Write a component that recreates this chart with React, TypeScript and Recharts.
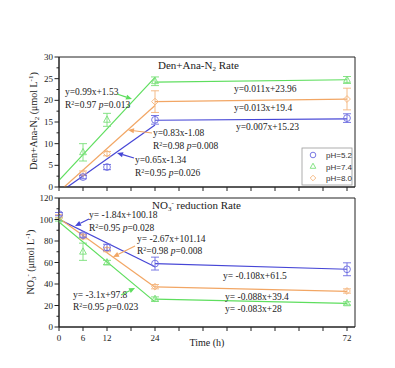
import { ComposedChart, XAxis, YAxis, Scatter, Line, ErrorBar, ReferenceArea } from 'recharts'

const BLUE = '#4646d6'
const GREEN = '#5ede5e'
const ORANGE = '#f2a664'
const BLUE_M = '#6a6ae0'
const GREEN_M = '#78e078'
const ORANGE_M = '#f4b47c'
const SERIF = '"Liberation Serif", "Times New Roman", serif'

const hours = [0, 6, 12, 18, 24, 30, 36, 42, 48, 54, 60, 66, 72]
const hourLabels = [0, 6, 12, 24, 72]

// Den+Ana-N2 (umol/L) measured points
const n2Blue = [
  { t: 6, v: 2.3, e: 0.4 },
  { t: 12, v: 4.6, e: 0.6 },
  { t: 24, v: 15.5, e: 1 },
  { t: 72, v: 15.9, e: 1 },
]
const n2Green = [
  { t: 6, v: 8, e: 2 },
  { t: 12, v: 15.5, e: 1.5 },
  { t: 24, v: 24.4, e: 1 },
  { t: 72, v: 24.7, e: 0.8 },
]
const n2Orange = [
  { t: 6, v: 3.2, e: 0.5 },
  { t: 12, v: 7.7, e: 0.5 },
  { t: 24, v: 19.7, e: 2.5 },
  { t: 72, v: 20.3, e: 2.5 },
]

// fitted segments, top panel
const n2BlueFit1 = [{ t: 2.1, v: 0 }, { t: 24, v: 14.3 }]
const n2BlueFit2 = [{ t: 24, v: 15.4 }, { t: 72, v: 15.7 }]
const n2GreenFit1 = [{ t: 0, v: 1.53 }, { t: 24, v: 25.3 }]
const n2GreenFit2 = [{ t: 24, v: 24.2 }, { t: 72, v: 24.75 }]
const n2OrangeFit1 = [{ t: 1.3, v: 0 }, { t: 24, v: 18.8 }]
const n2OrangeFit2 = [{ t: 24, v: 19.7 }, { t: 72, v: 20.3 }]

// NO3- (umol/L) measured points
const no3Blue = [
  { t: 0, v: 105, e: 1.5 },
  { t: 6, v: 85.5, e: 2 },
  { t: 12, v: 74, e: 3 },
  { t: 24, v: 59, e: 6 },
  { t: 72, v: 53.7, e: 6 },
]
const no3Green = [
  { t: 0, v: 100, e: 1.5 },
  { t: 6, v: 70, e: 8 },
  { t: 12, v: 60, e: 2 },
  { t: 24, v: 26, e: 2 },
  { t: 72, v: 22, e: 1.5 },
]
const no3Orange = [
  { t: 0, v: 103, e: 1.5 },
  { t: 6, v: 84, e: 2 },
  { t: 12, v: 72, e: 2 },
  { t: 24, v: 37.5, e: 2 },
  { t: 72, v: 33.5, e: 2 },
]

const no3BlueFit1 = [{ t: 0, v: 100.2 }, { t: 24, v: 56 }]
const no3BlueFit2 = [{ t: 24, v: 58.9 }, { t: 72, v: 53.7 }]
const no3OrangeFit1 = [{ t: 0, v: 101.1 }, { t: 24, v: 37 }]
const no3OrangeFit2 = [{ t: 24, v: 37.3 }, { t: 72, v: 33.1 }]
const no3GreenFit1 = [{ t: 0, v: 97.8 }, { t: 24, v: 23.4 }]
const no3GreenFit2 = [{ t: 24, v: 26 }, { t: 72, v: 22 }]

const n2Ticks = [0, 2.5, 5, 7.5, 10, 12.5, 15, 17.5, 20, 22.5, 25, 27.5, 30]
const no3Ticks = [0, 10, 20, 30, 40, 50, 60, 70, 80, 90, 100, 110, 120]

const legendItems = [
  { name: 'pH=5.2', color: BLUE_M, shape: 'circle' },
  { name: 'pH=7.4', color: GREEN_M, shape: 'triangle' },
  { name: 'pH=8.0', color: ORANGE_M, shape: 'diamond' },
]

const marker = (shape: string, color: string, cx: number, cy: number, r = 3.4) => {
  if (shape === 'circle') return <circle cx={cx} cy={cy} r={r} fill="none" stroke={color} strokeWidth={0.9} />
  if (shape === 'triangle')
    return <polygon points={`${cx},${cy - r - 0.5} ${cx - r},${cy + r - 1} ${cx + r},${cy + r - 1}`} fill="none" stroke={color} strokeWidth={0.9} />
  return <polygon points={`${cx},${cy - r} ${cx + r},${cy} ${cx},${cy + r} ${cx - r},${cy}`} fill="none" stroke={color} strokeWidth={0.9} />
}

const shapeOf = (shape: string, color: string) => (p: any) => marker(shape, color, p.cx, p.cy)

const makeYTick = (step: number) => (p: any) => {
  const v = p.payload.value
  const major = Math.abs(v / step - Math.round(v / step)) < 1e-6
  return (
    <g>
      <line x1={p.x} x2={p.x - (major ? 4.5 : 2.5)} y1={p.y} y2={p.y} stroke="#222" />
      {major && (
        <text x={p.x - 6} y={p.y + 3} textAnchor="end" fontSize={9} fontFamily={SERIF} fill="#222">{v}</text>
      )}
    </g>
  )
}

const makeXTick = (showLabels: boolean) => (p: any) => {
  const v = p.payload.value
  return (
    <g>
      <line x1={p.x} x2={p.x} y1={p.y} y2={p.y + 4} stroke="#222" />
      {showLabels && hourLabels.includes(v) && (
        <text x={p.x} y={p.y + 14} textAnchor="middle" fontSize={9} fontFamily={SERIF} fill="#222">{v}</text>
      )}
    </g>
  )
}

const fit = (data: any[], color: string, key: string) => (
  <Line key={key} data={data} dataKey="v" stroke={color} strokeWidth={1.2} dot={false} isAnimationActive={false} />
)

const points = (data: any[], color: string, shape: string) => (
  <Scatter data={data} dataKey="v" shape={shapeOf(shape, color)} isAnimationActive={false}>
    <ErrorBar dataKey="e" direction="y" width={4} stroke={color} strokeWidth={0.9} />
  </Scatter>
)

const Arrow = ({ x1, y1, x2, y2, color }: { x1: number; y1: number; x2: number; y2: number; color: string }) => {
  const a = Math.atan2(y2 - y1, x2 - x1)
  const L = 6, W = 2.6
  const bx = x2 - L * Math.cos(a), by = y2 - L * Math.sin(a)
  const px = -Math.sin(a) * W, py = Math.cos(a) * W
  return (
    <g>
      <line x1={x1} y1={y1} x2={bx} y2={by} stroke={color} strokeWidth={1.2} />
      <polygon points={`${x2},${y2} ${bx + px},${by + py} ${bx - px},${by - py}`} fill={color} />
    </g>
  )
}

const Eq = ({ x, y, text }: { x: number; y: number; text: string }) => (
  <text x={x} y={y} fontSize={9.5} fontFamily={SERIF} fill="#222">{text}</text>
)

const Stat = ({ x, y, r2, p }: { x: number; y: number; r2: string; p: string }) => (
  <text x={x} y={y} fontSize={9.5} fontFamily={SERIF} fill="#222">
    R<tspan dy={-3} fontSize={6}>2</tspan><tspan dy={3}>={r2}  </tspan>
    <tspan fontStyle="italic">p</tspan>={p}
  </text>
)

export default function App() {
  return (
    <div style={{ position: 'absolute', left: 0, top: 0, width: 395, height: 368, background: '#fff' }}>
      <div style={{ position: 'absolute', left: 0, top: 0 }}>
        <ComposedChart width={395} height={368} margin={{ top: 57, right: 40, bottom: 171, left: 29 }}>
          <XAxis dataKey="t" type="number" domain={[0, 74]} ticks={hours} allowDataOverflow interval={0}
            height={10} tickSize={0} tickMargin={0} tickLine={false} tick={makeXTick(false)} stroke="#222" />
          <YAxis dataKey="v" type="number" domain={[0, 30]} ticks={n2Ticks} allowDataOverflow interval={0}
            width={30} tickSize={0} tickMargin={0} tickLine={false} tick={makeYTick(5)} stroke="#222" />
          <ReferenceArea x1={0} x2={74} y1={0} y2={30} fill="none" stroke="#222" strokeWidth={1} ifOverflow="visible" />
          {fit(n2GreenFit1, GREEN, 'g1')}
          {fit(n2GreenFit2, GREEN, 'g2')}
          {fit(n2OrangeFit1, ORANGE, 'o1')}
          {fit(n2OrangeFit2, ORANGE, 'o2')}
          {fit(n2BlueFit1, BLUE, 'b1')}
          {fit(n2BlueFit2, BLUE, 'b2')}
          {points(n2Green, GREEN_M, 'triangle')}
          {points(n2Orange, ORANGE_M, 'diamond')}
          {points(n2Blue, BLUE_M, 'circle')}
        </ComposedChart>
      </div>
      <div style={{ position: 'absolute', left: 0, top: 0 }}>
        <ComposedChart width={395} height={368} margin={{ top: 198, right: 40, bottom: 21, left: 29 }}>
          <XAxis dataKey="t" type="number" domain={[0, 74]} ticks={hours} allowDataOverflow interval={0}
            height={20} tickSize={0} tickMargin={0} tickLine={false} tick={makeXTick(true)} stroke="#222" />
          <YAxis dataKey="v" type="number" domain={[0, 120]} ticks={no3Ticks} allowDataOverflow interval={0}
            width={30} tickSize={0} tickMargin={0} tickLine={false} tick={makeYTick(20)} stroke="#222" />
          <ReferenceArea x1={0} x2={74} y1={0} y2={120} fill="none" stroke="#222" strokeWidth={1} ifOverflow="visible" />
          {fit(no3BlueFit1, BLUE, 'b1')}
          {fit(no3BlueFit2, BLUE, 'b2')}
          {fit(no3OrangeFit1, ORANGE, 'o1')}
          {fit(no3OrangeFit2, ORANGE, 'o2')}
          {fit(no3GreenFit1, GREEN, 'g1')}
          {fit(no3GreenFit2, GREEN, 'g2')}
          {points(no3Green, GREEN_M, 'triangle')}
          {points(no3Orange, ORANGE_M, 'diamond')}
          {points(no3Blue, BLUE_M, 'circle')}
        </ComposedChart>
      </div>
      <svg width={395} height={368} style={{ position: 'absolute', left: 0, top: 0, pointerEvents: 'none' }}>
        {/* titles */}
        <text x={158} y={69} fontSize={11} fontFamily={SERIF} fill="#222">
          Den+Ana-N<tspan dy={2} fontSize={7}>2</tspan><tspan dy={-2}> Rate</tspan>
        </text>
        <text x={152} y={209} fontSize={11} fontFamily={SERIF} fill="#222">
          NO<tspan dy={2} fontSize={7}>3</tspan><tspan dy={-6} fontSize={7}>-</tspan><tspan dy={4}> reduction Rate</tspan>
        </text>
        {/* axis titles */}
        <text transform="translate(37,121) rotate(-90)" textAnchor="middle" fontSize={10} fontFamily={SERIF} fill="#222">
          Den+Ana-N<tspan dy={2} fontSize={7}>2</tspan><tspan dy={-2}> (μmol L</tspan><tspan dy={-4} fontSize={7}>-1</tspan><tspan dy={4}>)</tspan>
        </text>
        <text transform="translate(34,262) rotate(-90)" textAnchor="middle" fontSize={10} fontFamily={SERIF} fill="#222">
          NO<tspan dy={2} fontSize={7}>3</tspan><tspan dy={-6} fontSize={7}>-</tspan><tspan dy={4}> (μmol L</tspan><tspan dy={-4} fontSize={7}>-1</tspan><tspan dy={4}>)</tspan>
        </text>
        <text x={207} y={346} textAnchor="middle" fontSize={10} fontFamily={SERIF} fill="#222">Time (h)</text>

        {/* top annotations */}
        <Eq x={65} y={95} text="y=0.99x+1.53" />
        <Stat x={65} y={108} r2="0.97" p="0.013" />
        <Arrow x1={117} y1={94} x2={132} y2={99} color={GREEN} />
        <Eq x={153} y={136} text="y=0.83x-1.08" />
        <Stat x={153} y={149} r2="0.98" p="0.008" />
        <Arrow x1={152} y1={133} x2={128} y2={130} color={ORANGE} />
        <Eq x={135} y={163} text="y=0.65x-1.34" />
        <Stat x={135} y={176} r2="0.95" p="0.026" />
        <Arrow x1={134} y1={158} x2={117} y2={153} color={BLUE} />
        <Eq x={234} y={92} text="y=0.011x+23.96" />
        <Eq x={234} y={111} text="y=0.013x+19.4" />
        <Eq x={236} y={130} text="y=0.007x+15.23" />

        {/* legend */}
        <rect x={302} y={148} width={50} height={37} fill="#fff" stroke="#999" strokeWidth={0.8} />
        {legendItems.map((it, i) => (
          <g key={it.name}>
            {marker(it.shape, it.color, 313, 155 + i * 11.5, 2.8)}
            <text x={326} y={158 + i * 11.5} fontSize={8} fontFamily='"Liberation Sans", Arial, sans-serif' fill="#333">{it.name}</text>
          </g>
        ))}

        {/* bottom annotations */}
        <Eq x={89} y={218} text="y= -1.84x+100.18" />
        <Stat x={89} y={231} r2="0.95" p="0.028" />
        <Arrow x1={89} y1={219} x2={75} y2={226} color={BLUE} />
        <Eq x={137} y={242} text="y= -2.67x+101.14" />
        <Stat x={137} y={254} r2="0.98" p="0.008" />
        <Arrow x1={135} y1={246} x2={113} y2={257} color={ORANGE} />
        <Eq x={73} y={298} text="y= -3.1x+97.8" />
        <Stat x={73} y={310} r2="0.95" p="0.023" />
        <Arrow x1={121} y1={295} x2={135} y2={288} color={GREEN} />
        <Eq x={223} y={279} text="y= -0.108x+61.5" />
        <Eq x={225} y={300} text="y= -0.088x+39.4" />
        <Eq x={225} y={312} text="y= -0.083x+28" />
      </svg>
    </div>
  )
}
